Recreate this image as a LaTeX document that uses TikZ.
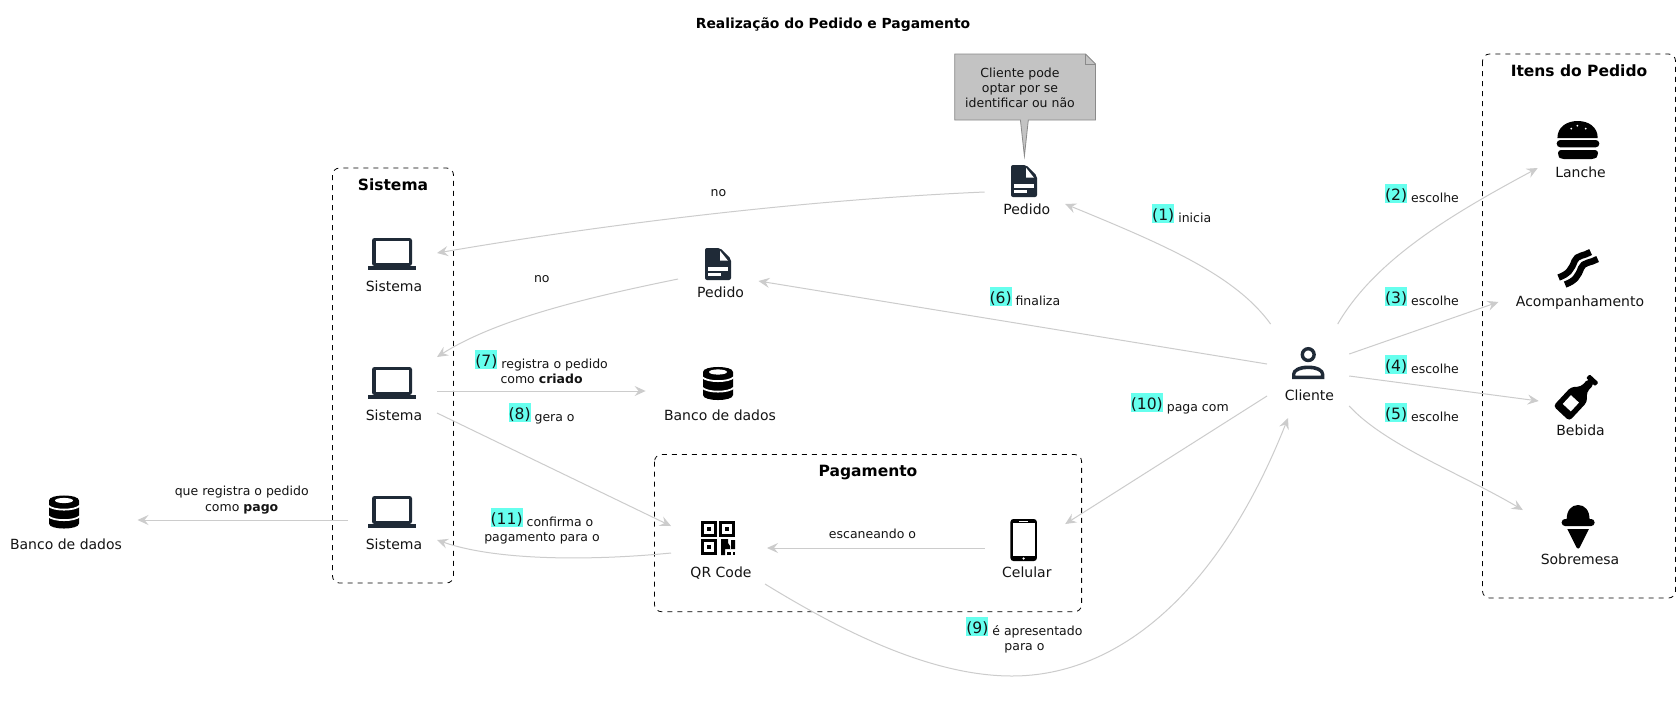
\documentclass[tikz,border=0pt]{standalone}
\usepackage{fontspec}
\setmainfont{DejaVu Sans}
\usetikzlibrary{calc,arrows.meta}
\definecolor{hlc}{HTML}{66FFEE}
\definecolor{edgec}{HTML}{CCCCCC}
\definecolor{darkc}{HTML}{1F2A37}
\definecolor{notec}{HTML}{C3C3C3}
\definecolor{notel}{HTML}{8A8A8A}
\newcommand\hlnum[1]{\begingroup\fontsize{15.6}{18}\selectfont\setbox0\hbox{#1}\rlap{\color{hlc}\rule[-0.7pt]{\wd0}{18.7pt}}\raisebox{1.5pt}{\box0}\endgroup}
\tikzset{
  x=1pt,y=-1pt,
  ent/.style={rectangle,inner sep=0pt,outer sep=0pt},
  lbl/.style={inner sep=0pt,outer sep=0pt,anchor=base,font=\fontsize{14}{16}\selectfont,text=black!92},
  elbl/.style={inner sep=0pt,outer sep=0pt,anchor=base west,font=\fontsize{12.5}{15.2}\selectfont,text=black!92},
  mlbl/.style={inner sep=0pt,outer sep=0pt,anchor=base,align=center,font=\fontsize{12.5}{15.2}\selectfont,text=black!92},
  ttl/.style={inner sep=0pt,outer sep=0pt,anchor=base,font=\fontsize{15.5}{18}\selectfont\bfseries},
  group/.style={draw=black,line width=0.8pt,dash pattern=on 5pt off 5pt,rounded corners=7pt},
  edge/.style={draw=edgec,line width=1pt,-{Stealth[length=11pt,width=10pt,inset=4pt,fill=edgec]}},
  laptopicon/.pic={
    \fill[darkc,rounded corners=2.5pt] (4,0) rectangle (44,28);
    \fill[white] (7.5,3) rectangle (40.5,24.5);
    \fill[darkc] (0,28) rectangle (48,32);
  },
  fileicon/.pic={
    \fill[darkc,rounded corners=2pt] (0,0) -- (15,0) -- (26,11) -- (26,32) -- (0,32) -- cycle;
    \fill[white] (15,2.7) -- (23,12.7) -- (15,12.7) -- cycle;
    \fill[white] (3.3,19.3) rectangle (22.7,22.7);
    \fill[white] (3.3,24.7) rectangle (16,28);
  },
  dbicon/.pic={
    \fill[black] (0,5) .. controls (0,-1.7) and (30,-1.7) .. (30,5) -- (30,28) .. controls (30,34.7) and (0,34.7) .. (0,28) -- cycle;
    \fill[white] (15,5) ellipse [x radius=9,y radius=2.6];
    \draw[white,line width=1.8pt] (-1,10) .. controls (4,15.5) and (26,15.5) .. (31,10);
    \draw[white,line width=1.8pt] (-1,20.5) .. controls (4,26) and (26,26) .. (31,20.5);
  },
  qricon/.pic={
    \foreach \qx/\qy in {0/0,18/0,0/18}{
      \fill[black] (\qx,\qy) rectangle ++(16,16);
      \fill[white] (\qx+3,\qy+3) rectangle ++(10,10);
      \fill[black] (\qx+6,\qy+6) rectangle ++(4,4);
    }
    \fill[black] (20,18) -- (27,18) -- (27,22) -- (29,25) -- (29,28) -- (34,28) -- (34,19) -- (30,19) -- (30,28) -- (24,28) -- (24,34) -- (20,34) -- cycle;
    \fill[black] (26,31) rectangle (29.5,34);
    \fill[black] (31.5,31) rectangle (34,34);
  },
  phoneicon/.pic={
    \fill[black,rounded corners=3pt] (0,0) rectangle (26.5,42);
    \fill[white] (2.5,4) rectangle (24.5,37);
    \fill[white] (9,1.6) rectangle (17.5,2.6);
    \fill[white] (13.25,39.5) circle [radius=1.3];
  },
  personicon/.pic={
    \draw[darkc,line width=3.4pt] (16.2,7.6) circle [radius=5.9];
    \fill[darkc,even odd rule] (0,32) -- (0,27) .. controls (0,22) and (7,18.5) .. (16.2,18.5) .. controls (25.4,18.5) and (32.3,22) .. (32.3,27) -- (32.3,32) -- cycle
      (3.4,28.7) -- (28.9,28.7) -- (28.9,27) .. controls (28.9,24.5) and (23,22) .. (16.2,22) .. controls (9.4,22) and (3.4,24.5) .. (3.4,27) -- cycle;
  },
  burgericon/.pic={
    \fill[black] (0.7,17) .. controls (0.7,6) and (10,0) .. (21,0) .. controls (32,0) and (41,6) .. (41,17) -- cycle;
    \fill[white] (14.6,7.6) circle [radius=1] (20.6,4.7) circle [radius=1] (29,7.6) circle [radius=1];
    \fill[black,rounded corners=3.5pt] (0,19) rectangle (42.6,26.3);
    \fill[black,rounded corners=3pt] (1.3,29) -- (41.3,29) -- (41.3,35) -- (38,38) -- (4,38) -- (1.3,35) -- cycle;
  },
  baconicon/.pic={
    \draw[black,line width=6.5pt] (2,28.5) .. controls (12,25) and (15,20) .. (18,12) .. controls (20,6) and (28,7) .. (34,3);
    \draw[black,line width=6.5pt] (8.5,35.5) .. controls (18.5,32) and (21.5,27) .. (24.5,19) .. controls (26.5,13) and (34.5,14) .. (41,10);
  },
  bottleicon/.pic={
    \begin{scope}[rotate=-43]
      \fill[black,rounded corners=3.5pt] (-11,0) -- (11,0) -- (11,-26) -- (4,-33) -- (4,-44) -- (-4,-44) -- (-4,-33) -- (-11,-26) -- cycle;
      \fill[black,rounded corners=1pt] (-6,-48) rectangle (6,-43);
      \fill[white] (-5.5,-8) rectangle (5.5,-20);
    \end{scope}
  },
  creamicon/.pic={
    \fill[black] (5,15) .. controls (5,5) and (10,0) .. (16.5,0) .. controls (23,0) and (28,5) .. (28,15) -- cycle;
    \fill[black,rounded corners=3.4pt] (0,14) rectangle (33,21);
    \fill[black] (5.7,24) -- (27.3,24) -- (18,42.5) .. controls (17,44) and (16,44) .. (15,42.5) -- cycle;
  },
}
\begin{document}
\begin{tikzpicture}
\useasboundingbox (0,0) rectangle (1680,716);
\fill[white] (0,0) rectangle (1680,716);

% title
\node[inner sep=0pt,anchor=base,font=\fontsize{13.9}{16}\selectfont\bfseries] (title) at (833,28) {Realização do Pedido e Pagamento};

% groups
\draw[group] (1482.5,54) rectangle (1675.5,598);
\draw[group] (332.5,168) rectangle (453.5,583);
\draw[group] (654.5,454.5) rectangle (1081.6,611.7);
\node[ttl] (gitens) at (1579,76) {Itens do Pedido};
\node[ttl] (gsistema) at (393,190) {Sistema};
\node[ttl] (gpag) at (868,476) {Pagamento};

% entity areas
\node[ent,minimum width=80.6pt,minimum height=62pt] (pedido1) at (1024.9,187) {};
\node[ent,minimum width=80.5pt,minimum height=60pt] (pedido2) at (718.25,270) {};
\node[ent,minimum width=89pt,minimum height=65pt] (sis1) at (392.5,262) {};
\node[ent,minimum width=89pt,minimum height=67pt] (sis2) at (392.5,390.5) {};
\node[ent,minimum width=89pt,minimum height=64pt] (sis3) at (392.5,520) {};
\node[ent,minimum width=148.8pt,minimum height=66pt] (bd1) at (720,391) {};
\node[ent,minimum width=137.5pt,minimum height=64pt] (bd2) at (68.75,520) {};
\node[ent,minimum width=96pt,minimum height=74pt] (qr) at (719,547) {};
\node[ent,minimum width=80.6pt,minimum height=72pt] (cel) at (1024.9,544) {};
\node[ent,minimum width=82.2pt,minimum height=94pt] (cliente) at (1308.1,371) {};
\node[ent,minimum width=85.6pt,minimum height=70pt] (lanche) at (1580.5,145) {};
\node[ent,minimum width=163.2pt,minimum height=70pt] (acomp) at (1580,275) {};
\node[ent,minimum width=83.6pt,minimum height=70pt] (bebida) at (1580.5,405) {};
\node[ent,minimum width=114.4pt,minimum height=68pt] (sobre) at (1580,534) {};

% icons
\pic at (1011,165) {fileicon};
\pic at (705,248) {fileicon};
\pic at (368,238) {laptopicon};
\pic at (368,367) {laptopicon};
\pic at (368,496) {laptopicon};
\pic at (703,367) {dbicon};
\pic at (49,495.5) {dbicon};
\pic at (701,521) {qricon};
\pic at (1010.4,519) {phoneicon};
\pic at (1292,347) {personicon};
\pic at (1556.7,121) {burgericon};
\pic at (1556.6,249) {baconicon};
\pic at (1561.3,413.5) {bottleicon};
\pic at (1561.6,505) {creamicon};

% labels
\node[lbl] (tp1) at (1026.8,214) {Pedido};
\node[lbl] (tp2) at (720.6,297) {Pedido};
\node[lbl] (ts1) at (394,291) {Sistema};
\node[lbl] (ts2) at (394,420) {Sistema};
\node[lbl] (ts3) at (394,549) {Sistema};
\node[lbl] (tb1) at (720,420) {Banco de dados};
\node[lbl] (tb2) at (66,549) {Banco de dados};
\node[lbl] (tqr) at (721,577) {QR Code};
\node[lbl] (tcel) at (1026.8,577) {Celular};
\node[lbl] (tcli) at (1309.4,400) {Cliente};
\node[lbl] (tla) at (1580.5,177) {Lanche};
\node[lbl] (tac) at (1580,306) {Acompanhamento};
\node[lbl] (tbe) at (1580.5,435) {Bebida};
\node[lbl] (tso) at (1580,564) {Sobremesa};

% note
\draw[fill=notec,draw=notel,line width=0.8pt,line join=miter]
  (954.7,54) -- (1085.5,54) -- (1095.5,64) -- (1095.5,120) -- (1028.3,120) -- (1024.4,156) -- (1020.4,120) -- (954.7,120) -- cycle;
\draw[draw=notel,line width=0.8pt] (1085.5,54) -- (1085.5,64) -- (1095.5,64);
\node[mlbl,anchor=center] (note) at (1020,88) {Cliente pode\\optar por se\\identificar ou não};

% connectors
\draw[edge] ($(cliente.center)+(-37.5,-47)$) .. controls (1235,275) and (1165,245) .. ($(pedido1.center)+(40.3,17)$);
\draw[edge] ($(cliente.center)+(29.6,-47)$) .. controls (1375,260) and (1450,215) .. ($(lanche.center)+(-42.8,23)$);
\draw[edge] ($(cliente.center)+(41.1,-17)$) -- ($(acomp.center)+(-81.6,27)$);
\draw[edge] ($(cliente.center)+(41.1,5)$) -- ($(bebida.center)+(-41.8,-4)$);
\draw[edge] ($(cliente.center)+(41.1,35)$) .. controls (1385,445) and (1460,473) .. ($(sobre.center)+(-57.2,-24)$);
\draw[edge] ($(cliente.center)+(-41.1,-7)$) -- ($(pedido2.center)+(40.25,11)$);
\draw[edge] ($(pedido1.center)+(-40.3,5)$) .. controls (800,200) and (600,225) .. ($(sis1.center)+(44.5,-9)$);
\draw[edge] ($(pedido2.center)+(-40.25,9)$) .. controls (600,295) and (500,317) .. ($(sis2.center)+(44.5,-33.5)$);
\draw[edge] ($(sis2.center)+(44.5,0.5)$) -- ($(bd1.center)+(-74.4,0)$);
\draw[edge] ($(sis2.center)+(44.5,22.5)$) -- ($(qr.center)+(-48,-21)$);
\draw[edge] ($(qr.center)+(46,37)$) .. controls (840,630) and (930,676) .. (1012,676) .. controls (1120,676) and (1220,590) .. ($(cliente.center)+(-20.1,47)$);
\draw[edge] ($(cliente.center)+(-41.1,25)$) -- ($(cel.center)+(40.3,-20)$);
\draw[edge] ($(cel.center)+(-40.3,4)$) -- ($(qr.center)+(48,1)$);
\draw[edge] ($(qr.center)+(-48,6)$) .. controls (600,560) and (500,562) .. ($(sis3.center)+(44.5,20)$);
\draw[edge] ($(sis3.center)+(-44.5,0)$) -- ($(bd2.center)+(68.75,0)$);

% connector labels
\node[elbl] (l1) at (1152.2,222) {\hlnum{(1)} inicia};
\node[elbl] (l2) at (1385,202) {\hlnum{(2)} escolhe};
\node[elbl] (l3) at (1385,305) {\hlnum{(3)} escolhe};
\node[elbl] (l4) at (1385,373) {\hlnum{(4)} escolhe};
\node[elbl] (l5) at (1385,421) {\hlnum{(5)} escolhe};
\node[elbl] (l6) at (989.5,305) {\hlnum{(6)} finaliza};
\node[elbl] (l10) at (1130.8,411) {\hlnum{(10)} paga com};
\node[elbl] (l8) at (508.5,421.3) {\hlnum{(8)} gera o};
\node[mlbl] (no1) at (718.5,196) {no};
\node[mlbl] (no2) at (541.8,282.4) {no};
\node[mlbl] (lesc) at (872.5,538) {escaneando o};
\node[mlbl] (l7) at (541.6,383.5) {\hlnum{(7)} registra o pedido\\como \textbf{criado}};
\node[mlbl] (l9) at (1024.4,650.2) {\hlnum{(9)} é apresentado\\para o};
\node[mlbl] (l11) at (542,541.2) {\hlnum{(11)} confirma o\\pagamento para o};
\node[mlbl] (lque) at (241.7,511) {que registra o pedido\\como \textbf{pago}};
\end{tikzpicture}
\end{document}
